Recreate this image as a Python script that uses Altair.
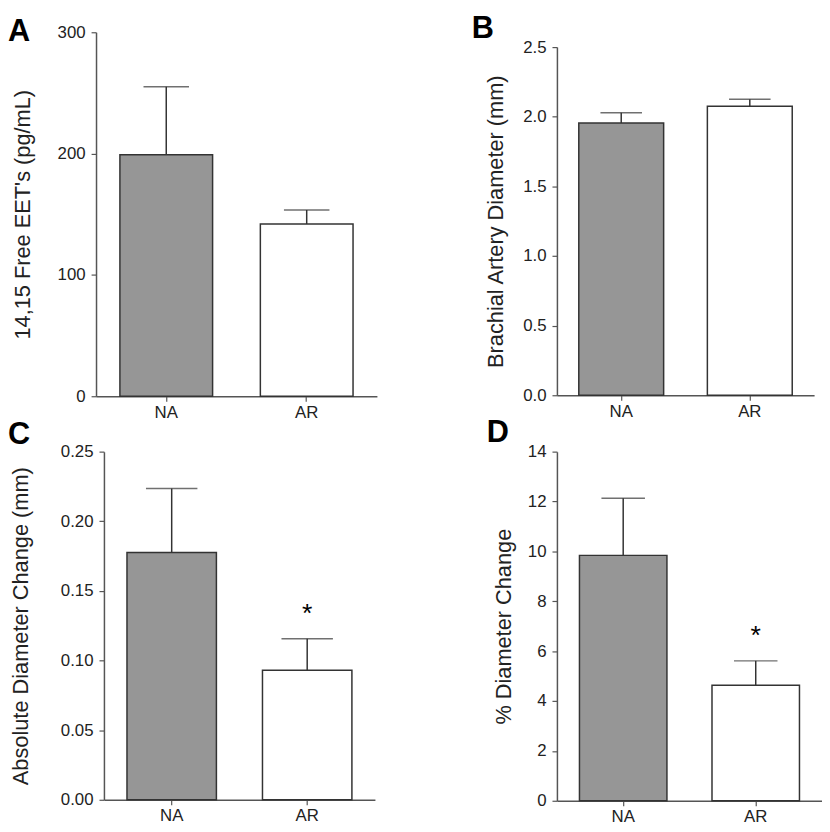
import altair as alt
import pandas as pd

groups = ["NA", "AR"]
bar_fill = ["#969696", "#ffffff"]

eet_mean = [199, 142]
eet_sem = [56, 11.5]

bad_mean = [1.955, 2.076]
bad_sem = [0.074, 0.049]

abs_mean = [0.1775, 0.093]
abs_sem = [0.046, 0.0226]

pct_mean = [9.84, 4.63]
pct_sem = [2.29, 0.98]

FONT = "Liberation Sans"
AX = "#555555"
TXT = "#222222"


def panel(mean, sem, ymax, ticks, fmt, title, letter, width, height, cap,
          title_pad, letter_x, letter_y, star=None, xrange=None, yrange=None,
          yoffset=0):
    df = pd.DataFrame({
        "group": groups,
        "mean": mean,
        "upper": [m + s for m, s in zip(mean, sem)],
        "fill": bar_fill,
    })
    xs = dict(paddingInner=0.34, paddingOuter=0.17)
    if xrange is not None:
        xs["range"] = xrange
    xenc = alt.X("group:N", sort=groups, title=None,
                 scale=alt.Scale(**xs),
                 axis=alt.Axis(labelAngle=0, labelFont=FONT, labelFontSize=17,
                               labelColor=TXT, tickSize=5, labelPadding=3,
                               domainColor=AX, tickColor=AX, domainWidth=1.5,
                               tickWidth=1.2))
    ys = dict(domain=[0, ymax], nice=False, zero=True)
    if yrange is not None:
        ys["range"] = yrange
    yscale = alt.Scale(**ys)
    yaxis = alt.Axis(values=ticks, format=fmt, title=title, grid=False,
                     labelFont=FONT, labelFontSize=17, labelColor=TXT,
                     labelPadding=6, tickSize=5, domainColor=AX, tickColor=AX,
                     domainWidth=1.5, tickWidth=1.2, offset=yoffset,
                     titleFont=FONT, titleFontSize=22, titleFontWeight="normal",
                     titleColor=TXT, titlePadding=title_pad)
    base = alt.Chart(df)
    err = base.mark_rule(color="#333333", strokeWidth=1.5).encode(
        x=xenc, y=alt.Y("mean:Q", scale=yscale, axis=yaxis), y2="upper:Q")
    capm = base.mark_tick(color="#333333", size=cap, thickness=1.5).encode(
        x=alt.X("group:N", sort=groups), y=alt.Y("upper:Q"))
    bars = base.mark_bar(stroke="#333333", strokeWidth=1.5).encode(
        x=alt.X("group:N", sort=groups),
        y=alt.Y("mean:Q"),
        fill=alt.Fill("fill:N", scale=None),
    )
    lab = alt.Chart(pd.DataFrame({"t": [letter]})).mark_text(
        align="left", baseline="top", font=FONT, fontSize=31,
        fontWeight="bold", color="#000000").encode(
        text="t:N", x=alt.value(letter_x), y=alt.value(letter_y))
    layers = [err, capm, bars, lab]
    if star is not None:
        sdf = pd.DataFrame({"group": ["AR"], "y": [df["upper"][1] + star * ymax], "t": ["*"]})
        layers.append(alt.Chart(sdf).mark_text(
            baseline="middle", font=FONT, fontSize=27, color="#000000").encode(
            x=alt.X("group:N", sort=groups), y=alt.Y("y:Q"), text="t:N"))
    return alt.layer(*layers).properties(width=width, height=height)


A = panel(eet_mean, eet_sem, 300, [0, 100, 200, 300], "d",
          "14,15 Free EET's (pg/mL)", "A", 284, 368, 46, 23, -89, -15)
B = panel(bad_mean, bad_sem, 2.5, [0, 0.5, 1.0, 1.5, 2.0, 2.5], ".1f",
          "Brachial Artery Diameter (mm)", "B", 260, 367, 42, 15, -86, -18,
          yrange=[367, 15])
C = panel(abs_mean, abs_sem, 0.25, [0, 0.05, 0.10, 0.15, 0.20, 0.25], ".2f",
          "Absolute Diameter Change (mm)", "C", 282, 352, 52, 28, -89, -32,
          star=0.07, xrange=[8, 282], yoffset=-8)
D = panel(pct_mean, pct_sem, 14, [0, 2, 4, 6, 8, 10, 12, 14], "d",
          "% Diameter Change", "D", 268, 353, 44, 12, -71, -34, star=0.07)

row1 = alt.hconcat(A, B, spacing=96)
row2 = alt.hconcat(C, D, spacing=113)
chart = alt.vconcat(row1, row2, spacing=-3).properties(
    padding={"left": 0, "top": 1, "right": 0, "bottom": 0}
).configure_view(strokeWidth=0)

chart.save("out.html", embed_options={"renderer": "svg", "actions": False})
